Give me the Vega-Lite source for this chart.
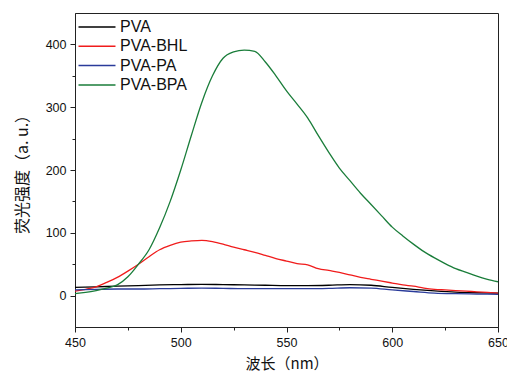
{
  "$schema": "https://vega.github.io/schema/vega-lite/v6.json",
  "autosize": "none",
  "width": 423,
  "height": 314,
  "padding": {"left": 75, "top": 13, "right": 9, "bottom": 47},
  "background": "white",
  "config": {
    "view": {"stroke": "#222", "strokeWidth": 1},
    "font": "Liberation Sans",
    "axis": {"grid": false, "domainColor": "#222", "tickColor": "#222", "labelColor": "#111", "labelFontSize": 12.5, "labelFont": "Liberation Sans", "titleFont": "Noto Sans CJK SC", "titleFontSize": 14, "titleFontWeight": "normal", "titleColor": "#111"}
  },
  "datasets": {
    "spectra": [
      {"wl":450,"v":13,"s":"PVA"},{"wl":460,"v":14,"s":"PVA"},{"wl":470,"v":15,"s":"PVA"},{"wl":480,"v":16,"s":"PVA"},{"wl":490,"v":17,"s":"PVA"},{"wl":500,"v":17.5,"s":"PVA"},{"wl":510,"v":18,"s":"PVA"},{"wl":520,"v":17.5,"s":"PVA"},{"wl":530,"v":17,"s":"PVA"},{"wl":540,"v":16.5,"s":"PVA"},{"wl":550,"v":16,"s":"PVA"},{"wl":560,"v":16,"s":"PVA"},{"wl":570,"v":16.5,"s":"PVA"},{"wl":580,"v":17.5,"s":"PVA"},{"wl":590,"v":16.5,"s":"PVA"},{"wl":600,"v":13,"s":"PVA"},{"wl":610,"v":10,"s":"PVA"},{"wl":620,"v":7.5,"s":"PVA"},{"wl":630,"v":5.5,"s":"PVA"},{"wl":640,"v":4.5,"s":"PVA"},{"wl":650,"v":4,"s":"PVA"},
      {"wl":450,"v":7,"s":"PVA-BHL"},{"wl":455,"v":10,"s":"PVA-BHL"},{"wl":460,"v":14,"s":"PVA-BHL"},{"wl":465,"v":21,"s":"PVA-BHL"},{"wl":470,"v":29,"s":"PVA-BHL"},{"wl":475,"v":39,"s":"PVA-BHL"},{"wl":480,"v":50,"s":"PVA-BHL"},{"wl":485,"v":62,"s":"PVA-BHL"},{"wl":490,"v":73,"s":"PVA-BHL"},{"wl":495,"v":80,"s":"PVA-BHL"},{"wl":500,"v":85,"s":"PVA-BHL"},{"wl":505,"v":87,"s":"PVA-BHL"},{"wl":510,"v":88,"s":"PVA-BHL"},{"wl":515,"v":86,"s":"PVA-BHL"},{"wl":520,"v":82,"s":"PVA-BHL"},{"wl":525,"v":77,"s":"PVA-BHL"},{"wl":530,"v":73,"s":"PVA-BHL"},{"wl":535,"v":69,"s":"PVA-BHL"},{"wl":540,"v":64,"s":"PVA-BHL"},{"wl":545,"v":59,"s":"PVA-BHL"},{"wl":550,"v":55,"s":"PVA-BHL"},{"wl":555,"v":51,"s":"PVA-BHL"},{"wl":560,"v":49,"s":"PVA-BHL"},{"wl":565,"v":43,"s":"PVA-BHL"},{"wl":570,"v":40,"s":"PVA-BHL"},{"wl":575,"v":37,"s":"PVA-BHL"},{"wl":580,"v":33,"s":"PVA-BHL"},{"wl":585,"v":29,"s":"PVA-BHL"},{"wl":590,"v":26,"s":"PVA-BHL"},{"wl":595,"v":23,"s":"PVA-BHL"},{"wl":600,"v":20,"s":"PVA-BHL"},{"wl":605,"v":17,"s":"PVA-BHL"},{"wl":610,"v":15,"s":"PVA-BHL"},{"wl":615,"v":12,"s":"PVA-BHL"},{"wl":620,"v":10,"s":"PVA-BHL"},{"wl":625,"v":9,"s":"PVA-BHL"},{"wl":630,"v":8,"s":"PVA-BHL"},{"wl":635,"v":7,"s":"PVA-BHL"},{"wl":640,"v":6,"s":"PVA-BHL"},{"wl":645,"v":5,"s":"PVA-BHL"},{"wl":650,"v":4,"s":"PVA-BHL"},
      {"wl":450,"v":9,"s":"PVA-PA"},{"wl":460,"v":10,"s":"PVA-PA"},{"wl":470,"v":10.5,"s":"PVA-PA"},{"wl":480,"v":10.5,"s":"PVA-PA"},{"wl":490,"v":11,"s":"PVA-PA"},{"wl":500,"v":11.5,"s":"PVA-PA"},{"wl":510,"v":12,"s":"PVA-PA"},{"wl":520,"v":11.5,"s":"PVA-PA"},{"wl":530,"v":11,"s":"PVA-PA"},{"wl":540,"v":11,"s":"PVA-PA"},{"wl":550,"v":11,"s":"PVA-PA"},{"wl":560,"v":11,"s":"PVA-PA"},{"wl":570,"v":11.5,"s":"PVA-PA"},{"wl":580,"v":12.5,"s":"PVA-PA"},{"wl":590,"v":12,"s":"PVA-PA"},{"wl":600,"v":9,"s":"PVA-PA"},{"wl":610,"v":6.5,"s":"PVA-PA"},{"wl":620,"v":4,"s":"PVA-PA"},{"wl":630,"v":3,"s":"PVA-PA"},{"wl":640,"v":2.5,"s":"PVA-PA"},{"wl":650,"v":2,"s":"PVA-PA"},
      {"wl":450,"v":3,"s":"PVA-BPA"},{"wl":455,"v":5,"s":"PVA-BPA"},{"wl":460,"v":8,"s":"PVA-BPA"},{"wl":465,"v":12,"s":"PVA-BPA"},{"wl":470,"v":17,"s":"PVA-BPA"},{"wl":475,"v":30,"s":"PVA-BPA"},{"wl":480,"v":50,"s":"PVA-BPA"},{"wl":485,"v":73,"s":"PVA-BPA"},{"wl":490,"v":108,"s":"PVA-BPA"},{"wl":495,"v":150,"s":"PVA-BPA"},{"wl":500,"v":200,"s":"PVA-BPA"},{"wl":505,"v":255,"s":"PVA-BPA"},{"wl":510,"v":308,"s":"PVA-BPA"},{"wl":515,"v":350,"s":"PVA-BPA"},{"wl":520,"v":378,"s":"PVA-BPA"},{"wl":525,"v":388,"s":"PVA-BPA"},{"wl":530,"v":391,"s":"PVA-BPA"},{"wl":535,"v":389,"s":"PVA-BPA"},{"wl":540,"v":372,"s":"PVA-BPA"},{"wl":545,"v":350,"s":"PVA-BPA"},{"wl":550,"v":326,"s":"PVA-BPA"},{"wl":555,"v":305,"s":"PVA-BPA"},{"wl":560,"v":283,"s":"PVA-BPA"},{"wl":565,"v":255,"s":"PVA-BPA"},{"wl":570,"v":228,"s":"PVA-BPA"},{"wl":575,"v":203,"s":"PVA-BPA"},{"wl":580,"v":183,"s":"PVA-BPA"},{"wl":585,"v":163,"s":"PVA-BPA"},{"wl":590,"v":145,"s":"PVA-BPA"},{"wl":595,"v":127,"s":"PVA-BPA"},{"wl":600,"v":109,"s":"PVA-BPA"},{"wl":605,"v":95,"s":"PVA-BPA"},{"wl":610,"v":82,"s":"PVA-BPA"},{"wl":615,"v":70,"s":"PVA-BPA"},{"wl":620,"v":60,"s":"PVA-BPA"},{"wl":625,"v":51,"s":"PVA-BPA"},{"wl":630,"v":43,"s":"PVA-BPA"},{"wl":635,"v":37,"s":"PVA-BPA"},{"wl":640,"v":31,"s":"PVA-BPA"},{"wl":645,"v":26,"s":"PVA-BPA"},{"wl":650,"v":22,"s":"PVA-BPA"}
    ]
  },
  "data": {"name": "spectra"},
  "mark": {"type": "line", "strokeWidth": 1.3, "interpolate": "monotone", "clip": true},
  "encoding": {
    "x": {
      "field": "wl", "type": "quantitative",
      "scale": {"domain": [450, 650], "nice": false, "zero": false},
      "axis": {
        "title": "波长（nm）", "titlePadding": 8, "titleFontSize": 15,
        "values": [450, 475, 500, 525, 550, 575, 600, 625, 650],
        "labelExpr": "datum.value % 50 === 0 ? datum.label : ''",
        "tickSize": {"condition": {"test": "datum.value % 50 === 0", "value": 5}, "value": 3},
        "labelPadding": 4, "labelFlush": false
      }
    },
    "y": {
      "field": "v", "type": "quantitative",
      "scale": {"domain": [-50, 450], "nice": false, "zero": false},
      "axis": {
        "title": "荧光强度（a. u.）", "titlePadding": 15, "titleFontSize": 16,
        "values": [0, 50, 100, 150, 200, 250, 300, 350, 400],
        "labelExpr": "datum.value % 100 === 0 ? datum.label : ''",
        "tickSize": {"condition": {"test": "datum.value % 100 === 0", "value": 5}, "value": 3},
        "labelPadding": 4
      }
    },
    "color": {
      "field": "s", "type": "nominal",
      "scale": {"domain": ["PVA", "PVA-BHL", "PVA-PA", "PVA-BPA"], "range": ["#000000", "#f01c1c", "#2a3b9a", "#1a7d3a"]},
      "legend": {
        "title": null, "orient": "none", "legendX": 14, "legendY": 6,
        "symbolType": "M-3,0H3", "symbolSize": 152, "symbolStrokeWidth": 1.5,
        "labelFontSize": 16, "labelFont": "Liberation Sans", "labelColor": "#111",
        "labelOffset": 15, "rowPadding": 3.3, "fillColor": "transparent", "padding": 0
      }
    }
  }
}
